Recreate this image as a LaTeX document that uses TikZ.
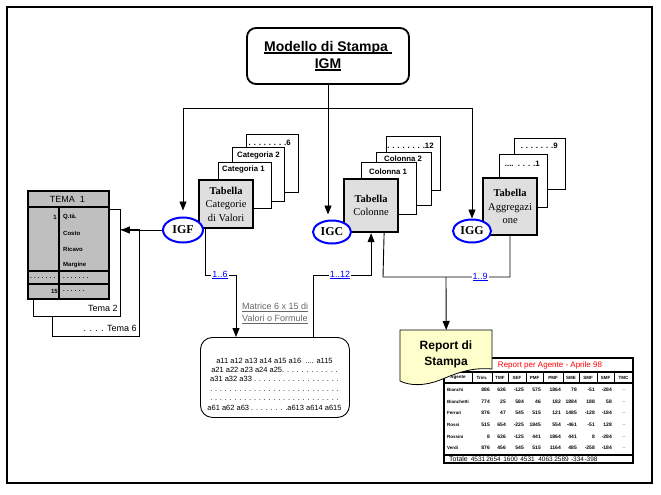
\documentclass[tikz,border=0pt]{standalone}
\usepackage{fontspec}
\setmainfont{Liberation Serif}
\setsansfont{Liberation Sans}
\usetikzlibrary{arrows.meta,shapes.geometric,calc}
\newcommand\myfs[2]{\fontsize{#1}{#2}\selectfont}
\newcommand\thul[1]{\setbox0\hbox{#1}\rlap{\rule[-2.8pt]{\wd0}{1.6pt}}\box0}
\definecolor{repyellow}{HTML}{FFFFCC}
\definecolor{lblgray}{HTML}{666666}
\definecolor{repred}{HTML}{FF0000}
\begin{document}
\begin{tikzpicture}[x=1pt,y=-1pt,
  conn/.style={line width=0.9pt},
  arr/.style={line width=0.9pt,-{Triangle[width=7pt,length=9pt]}},
  igell/.style={ellipse,draw=blue,line width=2pt,fill=white,inner sep=0pt,minimum width=38pt,minimum height=23pt,font=\myfs{12}{12}\bfseries},
  tabbox/.style={draw,line width=2.2pt,fill=gray!25,inner sep=0pt,anchor=north west,align=center,font=\myfs{10.5}{13.5}},
  stackbox/.style={draw,line width=0.8pt,fill=white,inner sep=0pt,anchor=north west},
  stacklbl/.style={inner sep=0pt,font=\sffamily\bfseries\myfs{7.8}{8}},
  linklbl/.style={fill=white,inner sep=1pt,text=blue,font=\sffamily\myfs{9}{10}},
  temalbl/.style={inner sep=0pt,font=\sffamily\myfs{9}{10}},
  tsmall/.style={inner sep=0pt,font=\sffamily\bfseries\myfs{6}{7}},
  hdr/.style={inner sep=0pt,font=\sffamily\bfseries\myfs{4.5}{5}},
  num/.style={inner sep=0pt,anchor=east,font=\sffamily\bfseries\myfs{5}{6}},
  tot/.style={inner sep=0pt,font=\sffamily\myfs{6.5}{7}}
]
\useasboundingbox (0,0) rectangle (661,495);
\draw[line width=2pt] (7,7) rectangle (652,483);

% top box
\node[draw,rounded corners=9pt,line width=1.8pt,minimum width=162pt,minimum height=56pt,align=center,font=\sffamily\bfseries\myfs{14}{17}] (top) at (328,56) {\thul{Modello di Stampa\ }\\\thul{IGM}};

% stacks F
\node[stackbox,minimum width=52pt,minimum height=58pt] (f3) at (246,134) {};
\node[stackbox,minimum width=52pt,minimum height=54pt] (f2) at (232,147) {};
\node[stackbox,minimum width=53pt,minimum height=46pt] (f1) at (218,162) {};
\node[stacklbl,anchor=east] at ($(f3.north east)+(-8,9)$) {. . . . . . . .6};
\node[stacklbl,anchor=west] at ($(f2.north west)+(5,8)$) {Categoria 2};
\node[stacklbl,anchor=west] at ($(f1.north west)+(4,7)$) {Categoria 1};
\node[tabbox,minimum width=54pt,minimum height=48pt] (tabF) at (198,179) {\textbf{Tabella}\\Categorie\\di Valori};

% stacks C
\node[stackbox,minimum width=54pt,minimum height=54pt] (c3) at (386,136) {};
\node[stackbox,minimum width=55pt,minimum height=53pt] (c2) at (376,152) {};
\node[stackbox,minimum width=55pt,minimum height=52pt] (c1) at (361,162) {};
\node[stacklbl,anchor=east] at ($(c3.north east)+(-7,10)$) {. . . . . . . .12};
\node[stacklbl,anchor=west] at ($(c2.north west)+(8,7)$) {Colonna 2};
\node[stacklbl,anchor=west] at ($(c1.north west)+(8,10)$) {Colonna 1};
\node[tabbox,minimum width=54pt,minimum height=53pt] (tabC) at (343,178) {\textbf{Tabella}\\Colonne};

% stacks G
\node[stackbox,minimum width=51pt,minimum height=51pt] (g2) at (514,138) {};
\node[stackbox,minimum width=48pt,minimum height=53pt] (g1) at (499,154) {};
\node[stacklbl,anchor=east] at ($(g2.north east)+(-8,8)$) {. . . . . . .9};
\node[stacklbl,anchor=east] at ($(g1.north east)+(-8,10)$) {....\ \ . . . .1};
\node[tabbox,minimum width=54pt,minimum height=57pt] (tabG) at (482,177) {\textbf{Tabella}\\Aggregazi\\one};

% TEMA tables
\node[stackbox,minimum width=87pt,minimum height=107pt] (tema6) at (52,229) {};
\node[temalbl,anchor=base east] at ($(tema6.south east)+(-3,-5)$) {. . . . Tema 6};
\node[stackbox,minimum width=87pt,minimum height=107pt] (tema2) at (33,209) {};
\node[temalbl,anchor=base east] at ($(tema2.south east)+(-3,-5)$) {Tema 2};
\node[draw,line width=1.8pt,fill=gray!50,inner sep=0pt,minimum width=81pt,minimum height=108pt,anchor=north west] (tema1) at (27,190) {};
\draw[line width=1.8pt] (27,207) -- (108,207);
\draw[line width=1.8pt] (59,207) -- (59,298);
\draw[line width=1.8pt] (27,271) -- (108,271);
\draw[line width=1.8pt] (27,284) -- (108,284);
\node[temalbl] at (67.5,199) {TEMA\ \ 1};
\node[tsmall,anchor=east] at (57,217) {1};
\node[tsmall,anchor=west] at (63,217) {Q.tà.};
\node[tsmall,anchor=west] at (63,233) {Costo};
\node[tsmall,anchor=west] at (63,249) {Ricavo};
\node[tsmall,anchor=west] at (63,265) {Margine};
\node[tsmall,anchor=west] at (30,278) {. . . . . . .};
\node[tsmall,anchor=west] at (63,278) {. . . . . . .};
\node[tsmall,anchor=east] at (58,291) {15};
\node[tsmall,anchor=west] at (63,291) {. . . . . .};

% ellipses
\node[igell,minimum width=40pt,minimum height=25pt] (IGF) at (183,230) {IGF};
\node[igell] (IGC) at (332,232) {IGC};
\node[igell] (IGG) at (472,231) {IGG};

% top connectors
\coordinate (hubL) at (183,108);
\coordinate (hubC) at (328,108);
\coordinate (hubR) at (472,108);
\draw[conn] (top.south) -- (hubC);
\draw[conn] (hubL) -- (hubR);
\draw[arr,shorten >=6pt] (hubL) -- (IGF.north);
\draw[arr,shorten >=5pt] (hubC) -- (hubC |- IGC.north);
\draw[arr] (hubR) -- (IGG.north);
\draw[arr] (IGF.west) -- (IGF.west -| tema2.east);

% matrix
\node[draw,rounded corners=12pt,line width=0.9pt,minimum width=149pt,minimum height=80pt,anchor=north west,inner sep=0pt] (mat) at (200,337) {};
\node[inner sep=0pt,align=center,font=\sffamily\myfs{7.5}{9.4}] at (274.5,384) {a11 a12 a13 a14 a15 a16\ \ .... a115\\a21 a22 a23 a24 a25. . . . . . . . . . . .\\a31 a32 a33 . . . . . . . . . . . . . . . . . .\\. . . . . . . . . . . . . . . . . . . . . . . . . . .\\. . . . . . . . . . . . . . . . . . . . . . . . . . .\\a61 a62 a63 . . . . . . . .a613 a614 a615};
\node[inner sep=0pt,anchor=west,align=left,text=lblgray,font=\sffamily\myfs{9}{12}] at (242,313) {\underline{Matrice 6 x 15 di}\\\underline{Valori o Formule}};

% bottom connectors
\coordinate (p16a) at (205,275);
\coordinate (p16b) at (236,275);
\draw[arr] ($(tabF.south west)+(7,0)$) -- (p16a) -- (p16b) -- (p16b |- mat.north);
\node[linklbl] at (220,275) {\underline{1..6}};
\coordinate (p12a) at (313,275);
\draw[arr] (p12a |- mat.north) -- (p12a) -- (p12a -| tabC.south) -- (tabC.south);
\node[linklbl] at (340,275) {\underline{1..12}};
\coordinate (p9a) at (383,277);
\coordinate (p9b) at (510,277);
\coordinate (p9c) at (446,277);
\draw[conn] ($(tabC.south)+(13,0)$) -- (p9a) -- (p9b) -- (p9b |- tabG.south);
\node[linklbl] at (480,277) {\underline{1..9}};

% report table
\draw[line width=1.2pt] (444,358) rectangle (633,463);
\draw[line width=1.2pt] (444,372) -- (633,372);
\draw[line width=1.2pt] (444,383) -- (633,383);
\draw[line width=1.2pt] (444,455) -- (633,455);
\foreach \x in {472,492,508,526,543,563,579,597,614} \draw[line width=1pt] (\x,372) -- (\x,383);
\node[inner sep=0pt,text=repred,font=\sffamily\myfs{8}{9}] at (550,365) {Report per Agente - Aprile 98};
\foreach \x/\t in {458/Agente,482/Trim.,500/TMF,517/SEF,534.5/PMF,553/PMF,571/SME,588/SMF,605.5/SMF,623.5/TMC}
  \node[hdr] at (\x,377.7) {\t};
\foreach \nm/\a/\b/\c/\d/\e/\f/\g/\h [count=\i, evaluate=\i as \yy using 378.4+11.6*\i] in
  {Bianchi/886/636/-125/575/1864/78/-51/-284,
   Bianchetti/774/25/584/46/182/1884/188/58,
   Ferrari/876/47/545/515/121/1485/-128/-184,
   Rossi/515/654/-225/1845/554/-461/-51/128,
   Rossini/8/636/-125/441/1864/441/8/-284,
   Verdi/876/456/545/515/1164/485/-258/-184}{
  \node[hdr,anchor=west] at (447,\yy) {\nm};
  \node[num] at (490,\yy) {\a};
  \node[num] at (506,\yy) {\b};
  \node[num] at (524,\yy) {\c};
  \node[num] at (541,\yy) {\d};
  \node[num] at (561,\yy) {\e};
  \node[num] at (577,\yy) {\f};
  \node[num] at (595,\yy) {\g};
  \node[num] at (612,\yy) {\h};
  \node[num,anchor=center] at (624,\yy) {\_};
}
\node[tot,anchor=west,font=\sffamily\myfs{7}{8}] at (449,459) {Totale};
\foreach \x/\t in {478/4531,493.5/2654,510.5/1600,527.5/4531,545.5/4063,561.5/2589,577.5/-334,591/-398}
  \node[tot] at (\x,459) {\t};

% report document shape
\path[draw,fill=repyellow,line width=0.8pt] (400,330) -- (492,330) -- (492,369) .. controls (470,367) and (455,374) .. (440,380) .. controls (425,386) and (410,386) .. (400,381) -- cycle;
\node[inner sep=0pt,minimum width=92pt,minimum height=52pt,anchor=north west] (rep) at (400,330) {};
\node[inner sep=0pt,align=center,font=\sffamily\bfseries\myfs{12}{16}] at (446,354) {Report di\\Stampa};
\draw[arr] (p9c) -- (rep.north);
\end{tikzpicture}
\end{document}
